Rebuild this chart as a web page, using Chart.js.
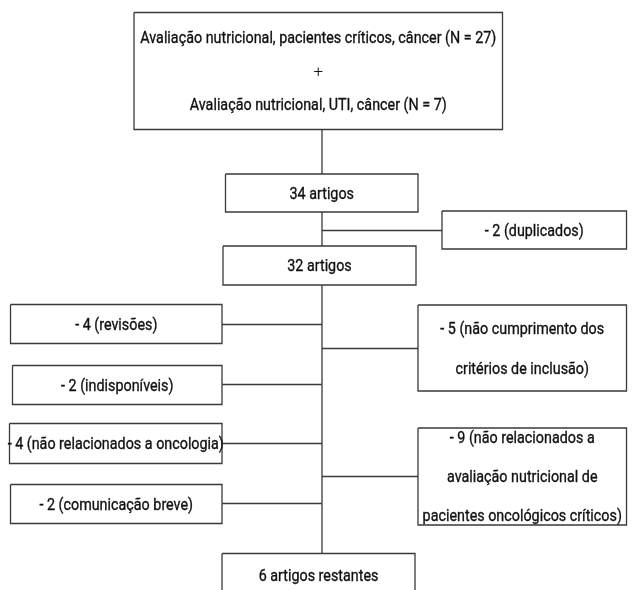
<!DOCTYPE html>
<html>
<head>
<meta charset="utf-8">
<script src="https://cdn.jsdelivr.net/npm/chart.js@4"></script>
<style>
  html, body { margin: 0; padding: 0; background: #fff; }
  #wrap { width: 635px; height: 590px; position: relative; }
</style>
</head>
<body>
<div id="wrap"><canvas id="fluxo"></canvas></div>
<script>
// textos de cada caixa do fluxograma
const boxText = [
  ['Avaliação nutricional, pacientes críticos, câncer (N = 27)', '+', 'Avaliação nutricional, UTI, câncer (N = 7)'],
  ['34 artigos'],
  ['- 2 (duplicados)'],
  ['32 artigos'],
  ['- 4 (revisões)'],
  ['- 2 (indisponíveis)'],
  ['- 4 (não relacionados a oncologia)'],
  ['- 2 (comunicação breve)'],
  ['- 5 (não cumprimento dos', 'critérios de inclusão)'],
  ['- 9 (não relacionados a', 'avaliação nutricional de', 'pacientes oncológicos críticos)'],
  ['6 artigos restantes'],
];

// layout das caixas (unidades do eixo)
const boxLeft   = [134, 225.5, 442, 223, 10.5, 12.5, 9.5, 10.5, 418, 418, 222];
const boxRight  = [502.5, 418, 626.5, 416, 222, 222, 222, 222, 626.5, 626.5, 415];
const boxTop    = [12.5, 174, 211, 246, 304.5, 365.5, 423.5, 484.5, 305, 428, 553.5];
const boxBottom = [129.5, 212, 249, 285, 343.5, 404.5, 463.5, 523.5, 391, 525, 598];
const lineGap   = [33.5, 39, 39, 39, 39, 39, 39, 39, 40, 39, 39];

// conectores [x1, y1, x2, y2]
const connectors = [
  [322, 129.5, 322, 174],
  [322, 212, 322, 246],
  [322, 230.5, 442, 230.5],
  [322, 285, 322, 553.5],
  [222, 324.5, 322, 324.5],
  [222, 384.5, 322, 384.5],
  [222, 443.5, 322, 443.5],
  [222, 503.5, 322, 503.5],
  [322, 348.5, 418, 348.5],
  [322, 476.5, 418, 476.5],
];

const LINE_COLOR = '#3a3a3a';
const FONT = '17px Roboto, "Noto Sans", sans-serif';
const TOP_LINE_WIDTH = 356; // largura do primeiro texto na figura

function boxDataset(i) {
  const l = boxLeft[i], r = boxRight[i], t = boxTop[i], b = boxBottom[i];
  return {
    data: [{ x: l, y: t }, { x: r, y: t }, { x: r, y: b }, { x: l, y: b }, { x: l, y: t }],
    borderColor: LINE_COLOR,
    borderWidth: 1.3,
    pointRadius: 0,
    fill: false,
    tension: 0,
  };
}

function connectorDataset(c) {
  return {
    data: [{ x: c[0], y: c[1] }, { x: c[2], y: c[3] }],
    borderColor: LINE_COLOR,
    borderWidth: 1.3,
    pointRadius: 0,
    fill: false,
    tension: 0,
  };
}

const datasets = boxText.map((_, i) => boxDataset(i)).concat(connectors.map(connectorDataset));

const boxLabels = {
  id: 'boxLabels',
  afterDatasetsDraw(chart) {
    const { ctx, scales } = chart;
    ctx.save();
    ctx.font = FONT;
    ctx.fillStyle = '#111';
    ctx.strokeStyle = '#111';
    ctx.lineWidth = 0.35;
    ctx.textAlign = 'center';
    ctx.textBaseline = 'middle';
    // fonte condensada: comprime na horizontal
    const squeeze = TOP_LINE_WIDTH / ctx.measureText(boxText[0][0]).width;
    boxText.forEach((lines, i) => {
      const cx = (boxLeft[i] + boxRight[i]) / 2;
      const cy = (i === 10 ? 575 : (boxTop[i] + boxBottom[i]) / 2) + 1.5;
      lines.forEach((txt, k) => {
        const y = cy + (k - (lines.length - 1) / 2) * lineGap[i];
        ctx.save();
        ctx.translate(scales.x.getPixelForValue(cx), scales.y.getPixelForValue(y));
        if (txt === '+') {
          // sinal de soma fino
          ctx.font = '300 ' + FONT;
          ctx.fillText(txt, 0, 0);
        } else {
          ctx.scale(squeeze, 1);
          ctx.fillText(txt, 0, 0);
          ctx.strokeText(txt, 0, 0);
        }
        ctx.restore();
      });
    });
    ctx.restore();
  },
};

new Chart(document.getElementById('fluxo'), {
  type: 'line',
  data: { datasets },
  options: {
    responsive: true,
    maintainAspectRatio: false,
    animation: false,
    layout: { padding: 0 },
    scales: {
      x: { type: 'linear', min: 0, max: 635, display: false },
      y: { type: 'linear', min: 0, max: 590, reverse: true, display: false },
    },
    plugins: { legend: { display: false }, tooltip: { enabled: false } },
  },
  plugins: [boxLabels],
});
</script>
</body>
</html>
